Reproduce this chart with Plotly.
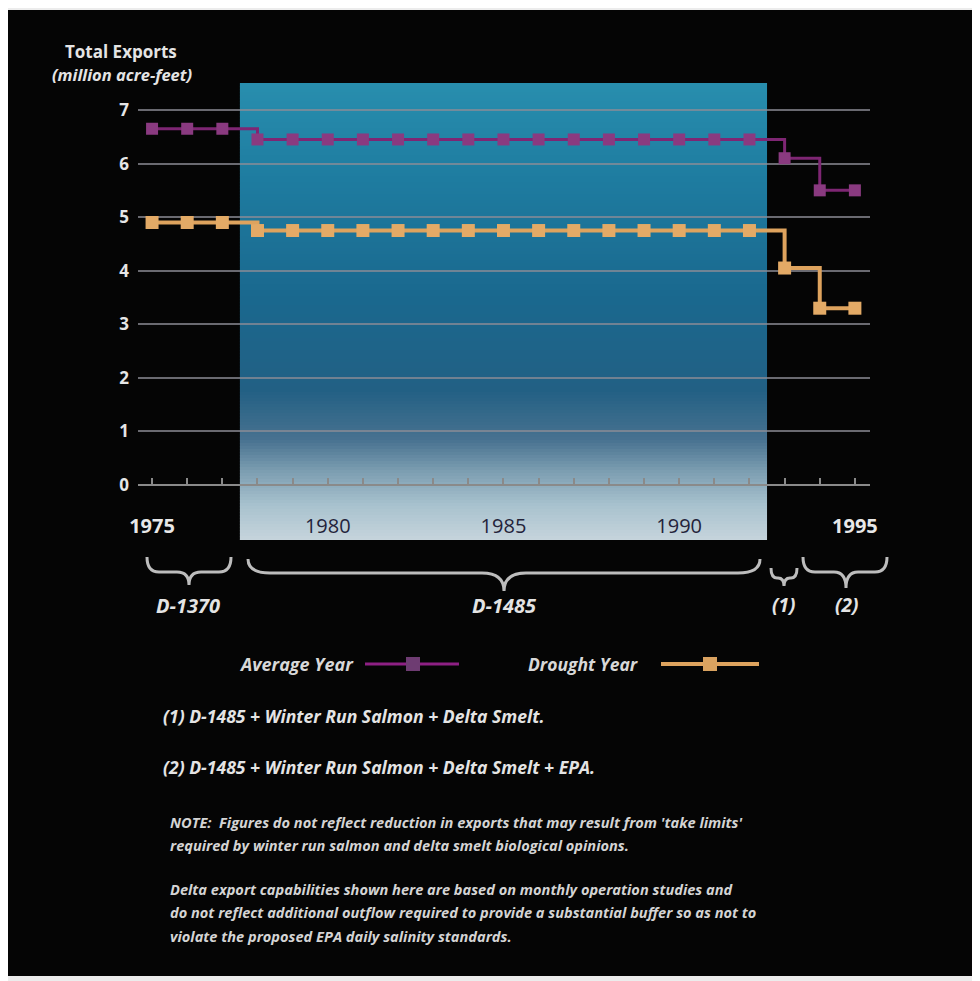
import plotly.graph_objects as go

# ---------------- data ----------------
years = list(range(1975, 1996))
average_year = [6.65, 6.65, 6.65,
                6.45, 6.45, 6.45, 6.45, 6.45, 6.45, 6.45, 6.45, 6.45, 6.45, 6.45, 6.45, 6.45, 6.45, 6.45,
                6.1, 5.5, 5.5]
drought_year = [4.9, 4.9, 4.9,
                4.75, 4.75, 4.75, 4.75, 4.75, 4.75, 4.75, 4.75, 4.75, 4.75, 4.75, 4.75, 4.75, 4.75, 4.75,
                4.05, 3.3, 3.3]
labeled_years = [1975, 1980, 1985, 1990, 1995]
light_label_years = [1975, 1995]
y_ticks = [0, 1, 2, 3, 4, 5, 6, 7]
d1485_span = [1977.5, 1992.5]

# ---------------- layout helpers ----------------
OFF = 8                      # page body margin
W, H = 980 - OFF, 981 - OFF
PLOT_L, PLOT_R, PLOT_T, PLOT_B = 138, 870, 83, 540   # in page pixels
ML, MR = PLOT_L - OFF, W - (PLOT_R - OFF)
MT, MB = PLOT_T - OFF, H - (PLOT_B - OFF)
PW, PH = PLOT_R - PLOT_L, PLOT_B - PLOT_T
YMIN, YMAX = -1.027, 7.504
XMIN, XMAX = 1974.6, 1995.43


def PX(x):
    return (x - PLOT_L) / PW


def PY(y):
    return (PLOT_B - y) / PH


fig = go.Figure()

PURPLE_LINE = "#7e2673"
PURPLE_MK = "#8a3a80"
GOLD_LINE = "#dea35e"
GOLD_MK = "#e3aa66"

fig.add_trace(go.Scatter(
    x=years, y=average_year, mode="lines+markers", line_shape="hv",
    line=dict(color=PURPLE_LINE, width=3),
    marker=dict(symbol="square", size=12, color=PURPLE_MK),
    name="Average Year", showlegend=False, hoverinfo="x+y"))
fig.add_trace(go.Scatter(
    x=years, y=drought_year, mode="lines+markers", line_shape="hv",
    line=dict(color=GOLD_LINE, width=4),
    marker=dict(symbol="square", size=13, color=GOLD_MK),
    name="Drought Year", showlegend=False, hoverinfo="x+y"))

shapes = []
# black panel
shapes.append(dict(type="rect", xref="paper", yref="paper", layer="below",
                   x0=PX(OFF - 3), x1=PX(974), y0=PY(976), y1=PY(10),
                   fillcolor="#050505", line=dict(width=0)))

# gradient shading for D-1485 period
stops = [(83, (40, 142, 174)), (180, (30, 124, 160)), (300, (26, 104, 142)),
         (390, (34, 96, 132)), (440, (72, 114, 144)), (470, (122, 156, 176)),
         (505, (168, 194, 206)), (540, (198, 212, 220))]


def col_at(py):
    for (a, ca), (b, cb) in zip(stops[:-1], stops[1:]):
        if a <= py <= b:
            t = (py - a) / (b - a)
            return tuple(int(round(ca[i] + (cb[i] - ca[i]) * t)) for i in range(3))
    return stops[-1][1]


step = 3
py = PLOT_T
while py < PLOT_B:
    c = col_at(py + step / 2)
    shapes.append(dict(type="rect", xref="x", yref="paper", layer="below",
                       x0=d1485_span[0], x1=d1485_span[1],
                       y0=PY(min(py + step + 0.6, PLOT_B)), y1=PY(py),
                       fillcolor="rgb(%d,%d,%d)" % c, line=dict(width=0)))
    py += step


def brace(xl, xr, xc, ytop, ymid, ybot, r=10):
    p = (f"M {PX(xl)},{PY(ytop)} Q {PX(xl)},{PY(ymid)} {PX(xl + r)},{PY(ymid)} "
         f"L {PX(xc - r)},{PY(ymid)} Q {PX(xc)},{PY(ymid)} {PX(xc)},{PY(ybot)} "
         f"Q {PX(xc)},{PY(ymid)} {PX(xc + r)},{PY(ymid)} "
         f"L {PX(xr - r)},{PY(ymid)} Q {PX(xr)},{PY(ymid)} {PX(xr)},{PY(ytop)}")
    return dict(type="path", xref="paper", yref="paper", path=p,
                line=dict(color="#bdbdbd", width=3))


shapes.append(brace(147, 231, 189, 557, 572, 585, r=12))
shapes.append(brace(248, 760, 504, 559, 573, 591, r=22))
shapes.append(brace(771, 797, 784, 568, 578, 586, r=6))
shapes.append(brace(803, 887, 846, 557, 572, 588, r=12))

# legend samples
for (x0, x1, xm, lc, mc, lw) in [(365, 459, 413, "#8e2084", "#6e3c72", 3),
                                 (661, 759, 710, GOLD_LINE, "#d9a260", 4)]:
    shapes.append(dict(type="line", xref="paper", yref="paper",
                       x0=PX(x0), x1=PX(x1), y0=PY(664), y1=PY(664),
                       line=dict(color=lc, width=lw)))
    shapes.append(dict(type="rect", xref="paper", yref="paper",
                       x0=PX(xm - 7), x1=PX(xm + 7), y0=PY(671), y1=PY(657),
                       fillcolor=mc, line=dict(width=0)))

FONT = "Open Sans"
annotations = []


def ann(text, x, y, size, anchor="center", color="#e4e4e4", bold=True, italic=False):
    t = text
    if bold:
        t = "<b>" + t + "</b>"
    if italic:
        t = "<i>" + t + "</i>"
    annotations.append(dict(text=t, x=PX(x), y=PY(y), xref="paper", yref="paper",
                            xanchor=anchor, yanchor="middle", showarrow=False,
                            font=dict(family=FONT, size=size, color=color)))


ann("Total Exports", 121, 52, 17)
ann("(million acre-feet)", 122, 74, 16.5, italic=True)

ann("D-1370", 188, 605, 20, italic=True)
ann("D-1485", 504, 605, 20, italic=True)
ann("(1)", 783, 605, 19, italic=True)
ann("(2)", 846, 605, 19, italic=True)

ann("Average Year", 356, 664, 18, anchor="right", italic=True, color="#d8d8d8")
ann("Drought Year", 641, 664, 17.5, anchor="right", italic=True, color="#d8d8d8")

ann("(1) D-1485 + Winter Run Salmon + Delta Smelt.", 161, 716, 17.6, anchor="left", italic=True)
ann("(2) D-1485 + Winter Run Salmon + Delta Smelt + EPA.", 161, 767, 17.6, anchor="left", italic=True)
note_lines = [
    ("NOTE:  Figures do not reflect reduction in exports that may result from 'take limits'", 822),
    ("required by winter run salmon and delta smelt biological opinions.", 845),
    ("Delta export capabilities shown here are based on monthly operation studies and", 889),
    ("do not reflect additional outflow required to provide a substantial buffer so as not to", 912),
    ("violate the proposed EPA daily salinity standards.", 936),
]
for txt, yy in note_lines:
    ann(txt, 168, yy, 14.6, anchor="left", italic=True, color="#d4d4d4")

ticktext = []
for yv in years:
    if yv in labeled_years:
        if yv in light_label_years:
            ticktext.append("<b><span style='color:#e8e8e8'>%d</span></b>" % yv)
        else:
            ticktext.append("<span style='color:#23233a'>%d</span>" % yv)
    else:
        ticktext.append("")

fig.update_layout(
    width=W, height=H,
    margin=dict(l=ML, r=MR, t=MT, b=MB, pad=0),
    paper_bgcolor="#ececec",
    plot_bgcolor="rgba(0,0,0,0)",
    shapes=shapes,
    annotations=annotations,
    showlegend=False,
    xaxis=dict(range=[XMIN, XMAX], anchor="free",
               position=(0 - YMIN) / (YMAX - YMIN),
               tickvals=years, ticktext=ticktext,
               ticks="inside", ticklen=6, tickwidth=1.5, tickcolor="#8a8a8a",
               showline=True, linecolor="#8a8a8a", linewidth=1.5,
               showgrid=False, zeroline=False, ticklabelstandoff=23,
               tickfont=dict(family=FONT, size=20, color="#e8e8e8")),
    yaxis=dict(range=[YMIN, YMAX], tickvals=y_ticks,
               ticktext=["<b>%d</b>" % v for v in y_ticks],
               showgrid=True, gridcolor="rgba(140,140,150,0.75)", gridwidth=1.5,
               zeroline=False, showline=False, ticks="",
               ticklabelstandoff=8,
               tickfont=dict(family=FONT, size=17, color="#e6e6e6")),
)

fig.write_html("out.html")
